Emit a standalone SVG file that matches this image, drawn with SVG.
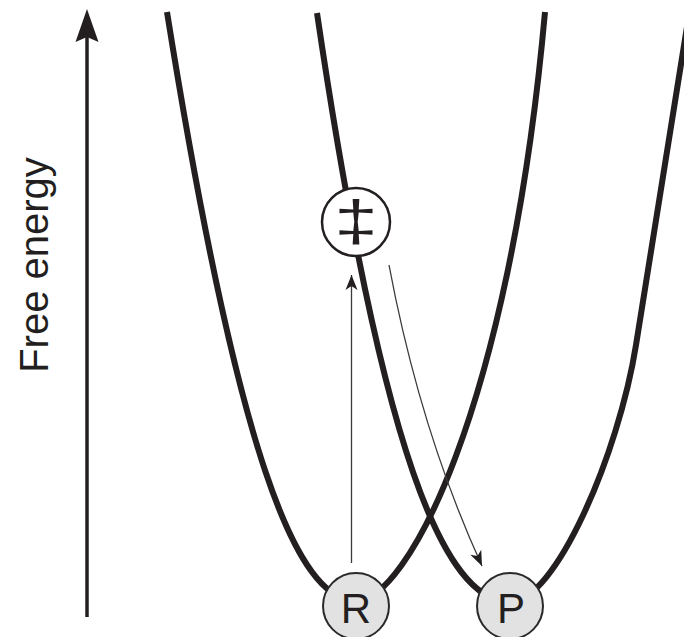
<svg xmlns="http://www.w3.org/2000/svg" width="684" height="637" viewBox="0 0 684 637">
  <style>
    .curve { fill: none; stroke: #231f20; stroke-width: 6; stroke-linecap: butt; stroke-linejoin: round; }
    .thin { fill: none; stroke: #3a3a3a; stroke-width: 1.3; }
    .state { fill: #e2e2e2; stroke: #2a2a2a; stroke-width: 2; }
    .ts { fill: #ffffff; stroke: #231f20; stroke-width: 2.5; }
    .lbl { font-family: "Liberation Sans", Arial, sans-serif; fill: #231f20; text-anchor: middle; }
  </style>
  <defs>
    <marker id="thinhead" markerUnits="userSpaceOnUse" markerWidth="20" markerHeight="16" refX="15" refY="7" orient="auto" overflow="visible">
      <path d="M15,7 L0,1 L4,7 L0,13 Z" fill="#231f20"/>
    </marker>
  </defs>

  <rect x="0" y="0" width="684" height="637" fill="#ffffff"/>

  <g id="axis">
    <line x1="87" y1="617" x2="87" y2="34" stroke="#231f20" stroke-width="3.5"/>
    <path d="M87,9 L98.5,42 L87,37 L75.5,42 Z" fill="#231f20"/>
    <text class="lbl" transform="translate(48,265) rotate(-90)" font-size="40">Free energy</text>
  </g>

  <g id="curves">
    <path id="curve-R" class="curve" d="M167,12 C237.4,452 296,601 356,601 C406,601 509,412 545,12"/>
    <path id="curve-P" class="curve" d="M317,13 C382,453 444,602 510,602 C555,602 618.4,455 636,345 L690,8"/>
  </g>

  <g id="connectors">
    <line id="arrow-R-TS" class="thin" x1="351.5" y1="563" x2="351.5" y2="275" marker-end="url(#thinhead)"/>
    <path id="arrow-TS-P" class="thin" d="M389,265 Q420,430 482,566" marker-end="url(#thinhead)"/>
  </g>

  <g id="node-TS">
    <circle class="ts" cx="356" cy="222" r="34"/>
    <text class="lbl" transform="translate(356,241) scale(1.35,1)" font-size="58">‡</text>
  </g>

  <g id="node-R">
    <circle class="state" cx="356" cy="606" r="33"/>
    <text class="lbl" x="356" y="623" font-size="42">R</text>
  </g>

  <g id="node-P">
    <circle class="state" cx="510" cy="606" r="33"/>
    <text class="lbl" x="511" y="623" font-size="42">P</text>
  </g>
</svg>
